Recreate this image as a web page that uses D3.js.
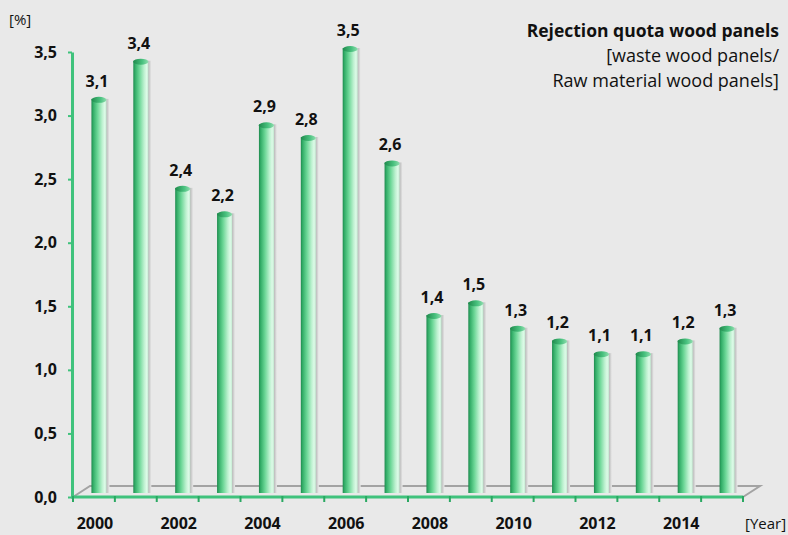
<!DOCTYPE html>
<html>
<head>
<meta charset="utf-8">
<script src="https://cdn.jsdelivr.net/npm/d3@7/dist/d3.min.js"></script>
<style>
  html, body { margin: 0; padding: 0; background: #e9e9e9; }
  svg { display: block; }
  text { font-family: "Open Sans", "Noto Sans", sans-serif; fill: #111; }
</style>
</head>
<body>
<svg id="chart" width="788" height="535"></svg>
<script>
// Rejection quota of wood panels per year, in percent
const years = [2000, 2001, 2002, 2003, 2004, 2005, 2006, 2007, 2008, 2009, 2010, 2011, 2012, 2013, 2014, 2015];
const quota = [3.1, 3.4, 2.4, 2.2, 2.9, 2.8, 3.5, 2.6, 1.4, 1.5, 1.3, 1.2, 1.1, 1.1, 1.2, 1.3];
const yTicks = [0, 0.5, 1.0, 1.5, 2.0, 2.5, 3.0, 3.5];
const yearLabels = [2000, 2002, 2004, 2006, 2008, 2010, 2012, 2014];
const titleLines = ["Rejection quota wood panels", "[waste wood panels/", "Raw material wood panels]"];

const svg = d3.select("#chart");
const W = 788, H = 535;
svg.append("rect").attr("width", W).attr("height", H).attr("fill", "#e9e9e9");

const x = d3.scaleBand().domain(years).range([73, 743]).padding(0);
const y = d3.scaleLinear().domain([0, 3.5]).range([497, 52]);

// depth offset of the floor (front edge -> back edge)
const depthX = 17, depthY = -11;
const barDX = 5, barDY = -4, barW = 15;

const defs = svg.append("defs");
const grad = defs.append("linearGradient").attr("id", "barGrad")
  .attr("x1", "0%").attr("x2", "100%").attr("y1", "0%").attr("y2", "0%");
[
  ["0%", "#1f8a4e"], ["12%", "#33ad68"], ["40%", "#6bd696"],
  ["72%", "#bdf1d0"], ["88%", "#dcfae7"], ["100%", "#c6ecd4"]
].forEach(([o, c]) => grad.append("stop").attr("offset", o).attr("stop-color", c));

const shadow = defs.append("linearGradient").attr("id", "shadowGrad")
  .attr("x1", "0%").attr("x2", "100%");
shadow.append("stop").attr("offset", "0%").attr("stop-color", "#a9a9a9");
shadow.append("stop").attr("offset", "100%").attr("stop-color", "#e9e9e9");

const cap = defs.append("linearGradient").attr("id", "capGrad")
  .attr("x1", "0%").attr("x2", "100%");
cap.append("stop").attr("offset", "0%").attr("stop-color", "#1f8a4c");
cap.append("stop").attr("offset", "60%").attr("stop-color", "#49c27f");
cap.append("stop").attr("offset", "100%").attr("stop-color", "#8fdcae");

// floor outline
const x0 = x.range()[0], x1 = x.range()[1], yb = y(0);
svg.append("path")
  .attr("d", `M${x0},${yb} L${x0 + depthX},${yb + depthY} L${x1 + depthX},${yb + depthY} L${x1},${yb}`)
  .attr("fill", "none").attr("stroke", "#a3a3a3").attr("stroke-width", 2);

// bars
const data = years.map((yr, i) => ({ year: yr, v: quota[i] }));
const bars = svg.append("g").selectAll("g").data(data).join("g");
const cx = d => x(d.year) + x.bandwidth() / 2 + barDX;

bars.append("rect")
  .attr("x", d => cx(d) + barW / 2 - 1)
  .attr("y", d => y(d.v) + barDY)
  .attr("width", 4)
  .attr("height", d => y(0) - y(d.v))
  .attr("fill", "url(#shadowGrad)");

bars.append("rect")
  .attr("x", d => cx(d) - barW / 2)
  .attr("y", d => y(d.v) + barDY)
  .attr("width", barW)
  .attr("height", d => y(0) - y(d.v))
  .attr("fill", "url(#barGrad)");

bars.append("ellipse")
  .attr("cx", d => cx(d))
  .attr("cy", d => y(d.v) + barDY + 1)
  .attr("rx", barW / 2)
  .attr("ry", 3)
  .attr("fill", "url(#capGrad)");

// value labels
bars.append("text")
  .attr("x", d => cx(d) - 2)
  .attr("y", d => y(d.v) + barDY - 12)
  .attr("text-anchor", "middle")
  .attr("font-size", 16).attr("font-weight", 700)
  .text(d => d.v.toFixed(1).replace(".", ","));

// y axis
const axisGreen = "#3fc27c";
const yAxis = svg.append("g").attr("transform", `translate(${x0 - 1},0)`)
  .call(d3.axisLeft(y).tickValues(yTicks).tickSize(4).tickSizeOuter(0)
    .tickFormat(d => d.toFixed(1).replace(".", ",")));
yAxis.select(".domain").attr("stroke", axisGreen).attr("stroke-width", 3);
yAxis.selectAll(".tick line").attr("stroke", axisGreen).attr("stroke-width", 2);
yAxis.selectAll(".tick text").attr("x", -15).attr("font-size", 16).attr("font-weight", 700)
  .attr("fill", "#111").style("font-family", "'Open Sans', sans-serif");

// x axis line with ticks between the year slots
const xAxis = svg.append("g");
xAxis.append("line").attr("x1", x0 - 2).attr("x2", x1).attr("y1", yb).attr("y2", yb)
  .attr("stroke", axisGreen).attr("stroke-width", 3);
const bounds = years.map(yr => x(yr)).concat([x1]);
xAxis.selectAll("line.tk").data(bounds).join("line").attr("class", "tk")
  .attr("x1", d => d).attr("x2", d => d).attr("y1", yb - 1).attr("y2", yb + 5)
  .attr("stroke", "#2aa862").attr("stroke-width", 2);
xAxis.selectAll("text").data(yearLabels).join("text")
  .attr("x", d => x(d) + x.bandwidth() / 2 + 1)
  .attr("y", 529)
  .attr("text-anchor", "middle")
  .attr("font-size", 16).attr("font-weight", 700)
  .text(d => d);

// unit labels
svg.append("text").attr("x", 9).attr("y", 25).attr("font-size", 15).text("[%]");
svg.append("text").attr("x", 745).attr("y", 529).attr("font-size", 15).text("[Year]");

// title block
svg.append("g").selectAll("text").data(titleLines).join("text")
  .attr("x", 779)
  .attr("y", (d, i) => 37 + i * 25)
  .attr("text-anchor", "end")
  .attr("font-size", (d, i) => i === 0 ? 17.5 : 18)
  .attr("font-weight", (d, i) => i === 0 ? 700 : 400)
  .text(d => d);
</script>
</body>
</html>
